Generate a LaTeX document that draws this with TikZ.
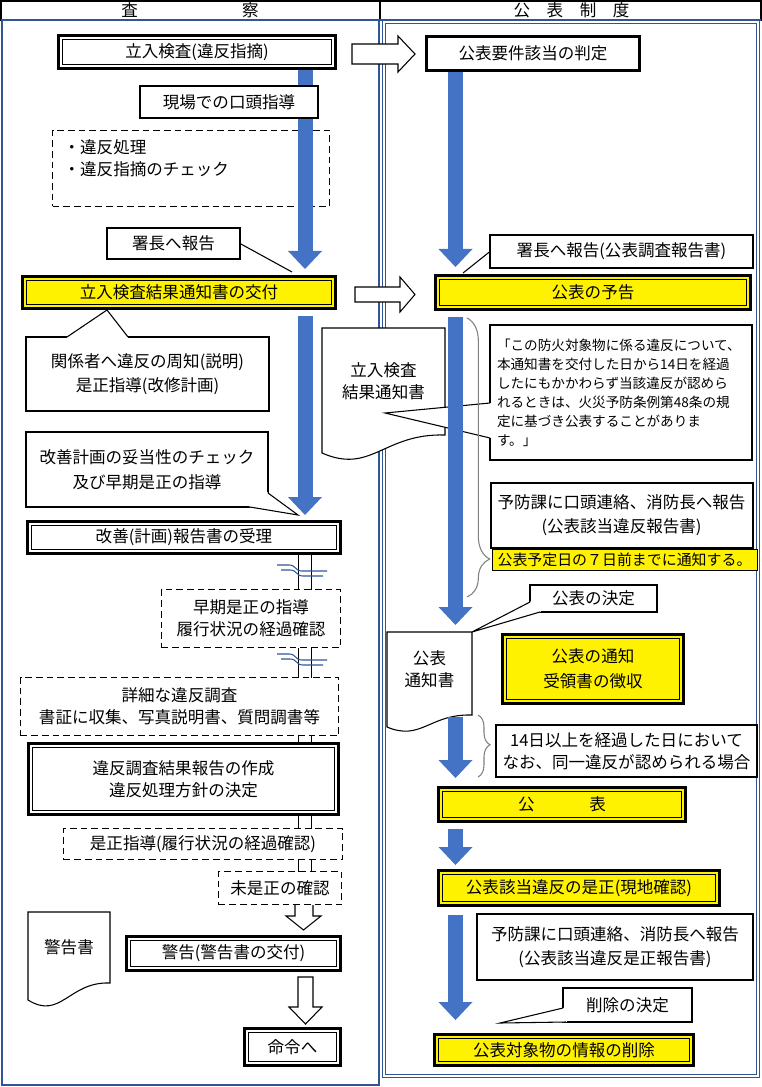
\documentclass[tikz,border=0pt]{standalone}
\usepackage{fontspec}
\setmainfont{Noto Sans CJK JP}
\usepackage{xcolor}
\usepackage{tikz}
\usetikzlibrary{arrows.meta, calc, decorations.pathreplacing}
\definecolor{frameblue}{HTML}{2F5597}
\definecolor{flowblue}{HTML}{4472C4}
\pgfdeclarelayer{rails}
\pgfsetlayers{rails,main}
\tikzstyle{plainbox} = [rectangle, draw=black, fill=white, line width=0.8pt]
\tikzstyle{heavybox} = [rectangle, draw=black, fill=white, line width=1.5pt]
\tikzstyle{judgebox} = [rectangle, draw=black, fill=white, line width=2.4pt]
\tikzstyle{dashbox} = [rectangle, draw=black, fill=white, line width=1.4pt, dash pattern=on 5pt off 3pt]
\tikzstyle{wdbl} = [rectangle, fill=white, draw=black, line width=0.7pt, double=white, double distance=1.4pt, preaction={draw=black, line width=6pt}]
\tikzstyle{ydbl} = [rectangle, fill=yellow, draw=black, line width=0.7pt, double=yellow, double distance=1.4pt, preaction={draw=black, line width=6pt}]
\tikzstyle{hilite} = [rectangle, draw=black, fill=yellow, line width=0.6pt]
\tikzstyle{flow} = [draw=flowblue, line width=11.25pt, -{Triangle[width=25.5pt, length=13.5pt, line width=0pt]}]
\tikzstyle{hollow} = [draw=black, fill=white, line width=0.8pt]
\tikzstyle{ptr} = [draw=black, line width=0.8pt]
\tikzstyle{docline} = [draw=black, fill=white, line width=0.8pt]
\tikzstyle{rail} = [draw=black, line width=0.6pt]
\tikzstyle{breakmark} = [draw=frameblue, line width=0.8pt]
\tikzstyle{brc} = [draw=gray, line width=0.8pt, decorate]
\tikzstyle{wide} = [font=\fontsize{12.4}{18.5}\selectfont]

\begin{document}
\begin{tikzpicture}[x=0.75pt, y=-0.75pt,
  every node/.style={font=\fontsize{12.4}{16.5}\selectfont, inner sep=2pt, outer sep=0pt, align=center}]
\useasboundingbox (0,0) rectangle (762,1087);

% header and column frames
\draw[line width=0.8pt] (1,1) rectangle (761,20);
\draw[line width=0.8pt] (380,1) -- (380,20);
\node (hdrL) at (190,10.5) {査\hspace{6.3em}察};
\node (hdrR) at (571.5,10.5) {公\hspace{1em}表\hspace{1em}制\hspace{1em}度};
\draw[draw=frameblue, line width=1.6pt] (2,20) -- (2,1085) -- (379,1085) -- (379,20);
\draw[draw=frameblue, line width=1.6pt] (1,20) -- (761,20);
\draw[draw=frameblue, line width=0.6pt, double=white, double distance=1.5pt] (384,22) rectangle (758,1076);

% hollow arrows between the columns
\draw[hollow] (352,44) -- (398,44) -- (398,36) -- (415,54) -- (398,72) -- (398,64) -- (352,64) -- cycle;
\draw[hollow] (355,287) -- (400,287) -- (400,277) -- (415,294.5) -- (400,312) -- (400,302) -- (355,302) -- cycle;

% left column
\node[wdbl, minimum width=204pt, minimum height=21pt] (kensa) at (197,52) {立入検査(違反指摘)};
\node[dashbox, minimum width=207.75pt, minimum height=57pt] (ihan) at (191,168.5) {};
\node[align=left, anchor=west] (ihantx) at (61,158) {・違反処理\\・違反指摘のチェック};
\node[ydbl, minimum width=231pt, minimum height=20.25pt] (kohu) at (179,292.5) {立入検査結果通知書の交付};
\node[wdbl, minimum width=231pt, minimum height=20.25pt] (kaizen) at (184,537.5) {改善(計画)報告書の受理};
\node[dashbox, minimum width=134.25pt, minimum height=43.5pt] (soki) at (251,618.5) {早期是正の指導\\履行状況の経過確認};
\node[dashbox, minimum width=238.5pt, minimum height=43.5pt] (shosai) at (179.5,706.5) {詳細な違反調査\\書証に収集、写真説明書、質問調書等};
\node[wdbl, minimum width=228.75pt, minimum height=49.5pt] (kekka) at (183.5,779) {違反調査結果報告の作成\\違反処理方針の決定};
\node[dashbox, minimum width=209.25pt, minimum height=23.25pt] (zesei) at (203,844) {是正指導(履行状況の経過確認)};
\node[dashbox, minimum width=92.25pt, minimum height=24.75pt] (mizesei) at (280,888) {未是正の確認};
\node[wdbl, minimum width=156.75pt, minimum height=21.75pt] (keikoku) at (233.5,953.5) {警告(警告書の交付)};
\node[wdbl, minimum width=68.25pt, minimum height=24pt] (meirei) at (292.5,1047) {命令へ};
\node[minimum width=61.5pt, minimum height=53.25pt] (keikokusho) at (69,947.5) {};
\draw[docline] (keikokusho.north west) -- (keikokusho.north east) -- (keikokusho.south east)
  .. controls ($(keikokusho.south east)!0.5!(keikokusho.south west)+(0,-1.7)$)
  and ($(keikokusho.south east)!0.6!(keikokusho.south west)+(0,37.4)$)
  .. ($(keikokusho.south west)+(0,17)$) -- cycle;
\node (keikokushotx) at (keikokusho) {警告書};

\draw[hollow] (295,905) -- (295,916) -- (286,916) -- (303.5,930) -- (321,916) -- (313,916) -- (313,905);
\draw[hollow] (298,977) -- (313,977) -- (313,1007) -- (322,1007) -- (305.5,1024) -- (289,1007) -- (298,1007) -- cycle;

\coordinate (la) at (298,0);
\coordinate (lb) at (311,0);
\begin{pgfonlayer}{rails}
\foreach \a/\b in {kaizen/soki, soki/shosai, shosai/kekka, kekka/zesei, zesei/mizesei}
  \foreach \c in {la,lb}
    \draw[rail] (\a.south -| \c) -- (\b.north -| \c);
\end{pgfonlayer}
\foreach \y in {565,654} {
  \draw[breakmark] (277,\y) -- (289,\y) .. controls (296,\y) and (295,\y+6) .. (302,\y+6) -- (327,\y+6);
  \draw[breakmark] (281,\y+5) -- (290,\y+5) .. controls (297,\y+5) and (296,\y+11) .. (303,\y+11) -- (323,\y+11);
}

% right column
\node[judgebox, minimum width=159.75pt, minimum height=25.5pt] (hantei) at (533,53.5) {公表要件該当の判定};
\node[ydbl, minimum width=232.5pt, minimum height=21.75pt] (yokoku) at (593,292.5) {公表の予告};
\node[minimum width=92.25pt, minimum height=80.25pt] (tsuchisho) at (383.5,381.5) {};
\draw[docline] (tsuchisho.north west) -- (tsuchisho.north east) -- (tsuchisho.south east)
  .. controls ($(tsuchisho.south east)!0.5!(tsuchisho.south west)+(0,-1.8)$)
  and ($(tsuchisho.south east)!0.6!(tsuchisho.south west)+(0,39.6)$)
  .. ($(tsuchisho.south west)+(0,18)$) -- cycle;
\node (tsuchishotx) at (tsuchisho) {立入検査\\結果通知書};
\node[plainbox, minimum width=196.5pt, minimum height=101.25pt, text width=186pt, align=left, inner sep=5pt,
  font=\fontsize{10.2}{14.2}\selectfont] (quote) at (621,392.5)
  {「この防火対象物に係る違反について、\\本通知書を交付した日から14日を経過\\したにもかかわらず当該違反が認めら\\れるときは、火災予防条例第48条の規\\定に基づき公表することがありま\\す。」};
\coordinate (q1) at ($(quote.west)+(0,10.5)$);
\coordinate (q2) at ($(quote.west)+(0,45.5)$);
\coordinate (ptq) at (385,413);
\fill[white] (q1) -- (ptq) -- (q2) -- cycle;
\draw[white, line width=1.6pt] (q1) -- (q2);
\draw[ptr] (q1) -- (ptq) -- (q2);
\node[heavybox, wide, minimum width=196.5pt, minimum height=48.75pt] (yobo1) at (621.5,515) {予防課に口頭連絡、消防長へ報告\\(公表該当違反報告書)};
\node[hilite, minimum width=198.75pt, minimum height=15.75pt, inner sep=0pt, font=\fontsize{11.2}{13}\selectfont] (yotei) at (624.5,559.5) {公表予定日の７日前までに通知する。};
\node[minimum width=63.75pt, minimum height=62.25pt] (tsuchisho2) at (429.5,673.5) {};
\draw[docline] (tsuchisho2.north west) -- (tsuchisho2.north east) -- (tsuchisho2.south east)
  .. controls ($(tsuchisho2.south east)!0.5!(tsuchisho2.south west)+(0,-1.2)$)
  and ($(tsuchisho2.south east)!0.6!(tsuchisho2.south west)+(0,26.4)$)
  .. ($(tsuchisho2.south west)+(0,12)$) -- cycle;
\node (tsuchisho2tx) at ([yshift=3pt]tsuchisho2) {公表\\通知書};
\node[ydbl, wide, minimum width=132pt, minimum height=48pt] (tsuchi) at (593,669) {公表の通知\\受領書の徴収};
\node[heavybox, minimum width=195.75pt, minimum height=39pt] (keika) at (626.5,751) {14日以上を経過した日において\\なお、同一違反が認められる場合};
\node[ydbl, minimum width=181.5pt, minimum height=21.75pt] (kohyo) at (562,804.5) {公\hspace{3.3em}表};
\node[ydbl, minimum width=207pt, minimum height=22.5pt] (zeseikakunin) at (579,888) {公表該当違反の是正(現地確認)};
\node[heavybox, wide, minimum width=207pt, minimum height=49.5pt] (yobo2) at (615,947) {予防課に口頭連絡、消防長へ報告\\(公表該当違反是正報告書)};
\node[ydbl, minimum width=190.5pt, minimum height=19.5pt] (sakujo) at (564,1050) {公表対象物の情報の削除};

% main flow
\coordinate (ls) at (305,0);
\coordinate (rs) at (455.5,0);
\draw[flow, shorten <=3pt, shorten >=7.5pt] (kensa.south -| ls) -- (kohu.north -| ls);
\draw[flow, shorten <=7.5pt, shorten >=6.75pt] (kohu.south -| ls) -- (kaizen.north -| ls);
\draw[flow, shorten <=1.2pt, shorten >=8.25pt] (hantei.south -| rs) -- (yokoku.north -| rs);
\draw[flow, shorten <=7.5pt, shorten >=5.25pt] (yokoku.south -| rs) -- (tsuchisho2.north -| rs);
\draw[flow, shorten <=1.5pt, shorten >=9pt] (tsuchisho2.south -| rs) -- (kohyo.north -| rs);
\draw[flow, shorten <=7.5pt, shorten >=6pt] (kohyo.south -| rs) -- (zeseikakunin.north -| rs);
\draw[flow, shorten <=9pt, shorten >=12.75pt] (zeseikakunin.south -| rs) -- (sakujo.north -| rs);

% notes and callouts
\node[plainbox, minimum width=133.5pt, minimum height=24pt] (genba) at (229,102) {現場での口頭指導};
\node[plainbox, minimum width=99.75pt, minimum height=23.25pt] (shocho1) at (173.5,243.5) {署長へ報告};
\coordinate (pts1) at (292,272);
\draw[ptr] (shocho1.east) -- (pts1);
\node[plainbox, line width=1.2pt, minimum width=197.25pt, minimum height=24.75pt] (shocho2) at (621.5,251.5) {署長へ報告(公表調査報告書)};
\coordinate (pts2) at (463,273);
\draw[ptr] (shocho2.west) -- (pts2);
\node[plainbox, wide, minimum width=182.25pt, minimum height=55.5pt] (kankei) at (147.5,374) {関係者へ違反の周知(説明)\\是正指導(改修計画)};
\node[plainbox, wide, minimum width=181.5pt, minimum height=56.25pt] (kaizenchk) at (147,469.5) {改善計画の妥当性のチェック\\及び早期是正の指導};
\node[plainbox, minimum width=95.25pt, minimum height=20.25pt] (kettei) at (593.5,598.5) {公表の決定};
\node[plainbox, minimum width=96.75pt, minimum height=25.5pt] (sakujok) at (627.5,1005) {削除の決定};
\coordinate (k1) at ($(kankei.north west)+(41,0)$);
\coordinate (k2) at ($(kankei.north west)+(102,0)$);
\coordinate (ptk) at (107,310);
\coordinate (c1) at ($(kaizenchk.south east)+(0,-14)$);
\coordinate (c2) at ($(kaizenchk.south east)+(-18,0)$);
\coordinate (ptc) at (298,515);
\coordinate (d1) at ($(kettei.south west)+(0,-10)$);
\coordinate (d2) at ($(kettei.south west)+(10,0)$);
\coordinate (ptd) at (472,632);
\coordinate (e1) at ($(sakujok.south west)+(0,-14)$);
\coordinate (e2) at ($(sakujok.south west)+(3,0)$);
\coordinate (pte) at (500,1023);
\foreach \p/\t/\q in {k1/ptk/k2, c1/ptc/c2, d1/ptd/d2, e1/pte/e2} {
  \fill[white] (\p) -- (\t) -- (\q) -- cycle;
  \draw[white, line width=1.6pt] (\p) -- (\q);
  \draw[ptr] (\p) -- (\t) -- (\q);
}

% braces
\draw[brc, decoration={brace, amplitude=17pt, aspect=0.864}] (467,318) -- (467,597);
\draw[brc, decoration={brace, amplitude=9pt, aspect=0.48}] (478,715) -- (478,777);
\end{tikzpicture}
\end{document}
